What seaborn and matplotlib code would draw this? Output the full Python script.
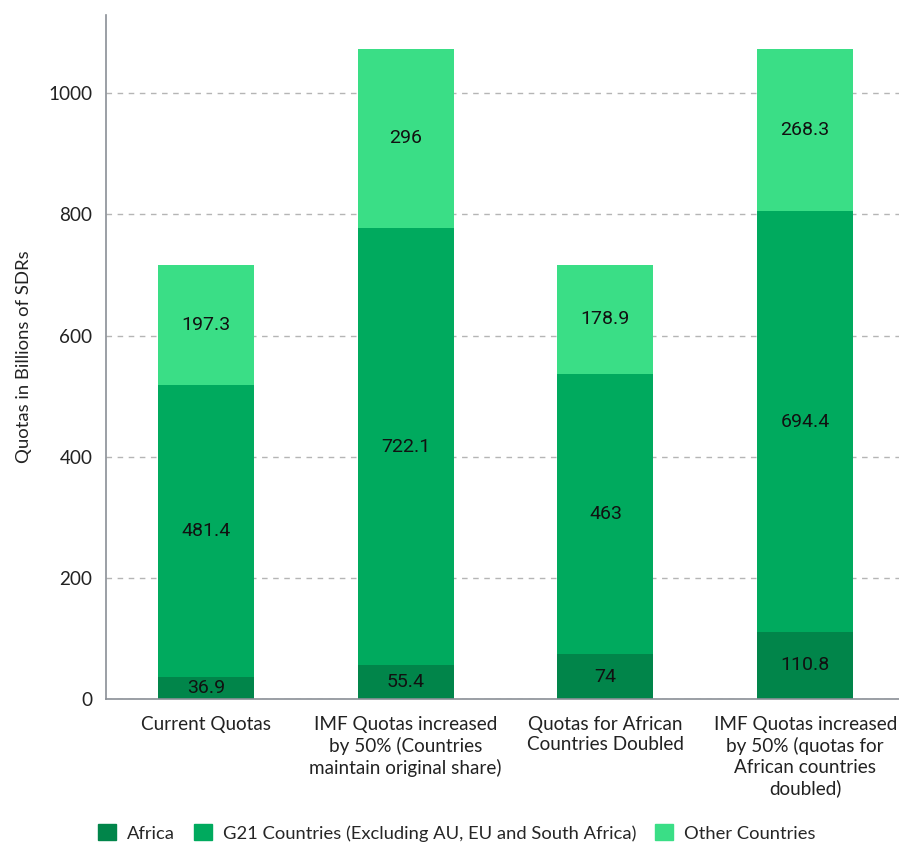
import matplotlib
matplotlib.use("Agg")
import matplotlib.pyplot as plt
import seaborn as sns
import pandas as pd
import numpy as np

scenarios = [
    "Current Quotas",
    "IMF Quotas increased\nby 50% (Countries\nmaintain original share)",
    "Quotas for African\nCountries Doubled",
    "IMF Quotas increased\nby 50% (quotas for\nAfrican countries\ndoubled)",
]
series_names = ["Africa", "G21 Countries (Excluding AU, EU and South Africa)", "Other Countries"]
africa = [36.9, 55.4, 74, 110.8]
g21 = [481.4, 722.1, 463, 694.4]
other = [197.3, 296, 178.9, 268.3]
colors = ["#01854a", "#00aa5e", "#3ade86"]

sns.set_theme(style="white")
plt.rcParams["font.family"] = ["Lato", "DejaVu Sans"]

fig = plt.figure(figsize=(8.99, 8.47), dpi=100)
ax = fig.add_axes([0.118, 0.1747, 0.882, 0.8076])

bottom = np.zeros(len(scenarios))
for name, vals, col in zip(series_names, [africa, g21, other], colors):
    df = pd.DataFrame({"scenario": scenarios, "value": vals})
    sns.barplot(data=df, x="scenario", y="value", color=col, width=0.48,
                bottom=bottom, ax=ax, label=name, linewidth=0, saturation=1)
    bottom = bottom + np.array(vals)

for cont, vals in zip(ax.containers, [africa, g21, other]):
    ax.bar_label(cont, labels=[f"{v:g}" for v in vals], label_type="center",
                 fontsize=14, color="#111111", family="Roboto")

ax.set_xlim(-0.5, 3.47)
ax.set_ylim(0, 1129)
ax.set_yticks([0, 200, 400, 600, 800, 1000])
ax.set_xlabel("")
ax.set_ylabel("Quotas in Billions of SDRs", fontsize=13.3, color="#222222", labelpad=12)
ax.tick_params(axis="both", length=0, labelsize=13.6, labelcolor="#222222")
ax.tick_params(axis="x", pad=12)
ax.tick_params(axis="y", pad=10)
for lbl in ax.get_xticklabels():
    lbl.set_linespacing(1.27)
ax.yaxis.grid(True, linestyle=(0, (4, 4)), color="#b5b5b5", linewidth=1)
ax.set_axisbelow(True)
for s in ["top", "right"]:
    ax.spines[s].set_visible(False)
for s in ["left", "bottom"]:
    ax.spines[s].set_color("#8a8f96")
    ax.spines[s].set_linewidth(1.2)

if ax.legend_:
    ax.legend_.remove()
handles = [plt.Rectangle((0, 0), 1, 1, color=c) for c in colors]
fig.legend(handles, series_names, loc="lower center", bbox_to_anchor=(0.508, -0.013),
           ncol=3, frameon=False, fontsize=13.2, handlelength=1.0, handleheight=1.0,
           columnspacing=1.0, handletextpad=0.6)

fig.savefig("out.png", dpi=100)
